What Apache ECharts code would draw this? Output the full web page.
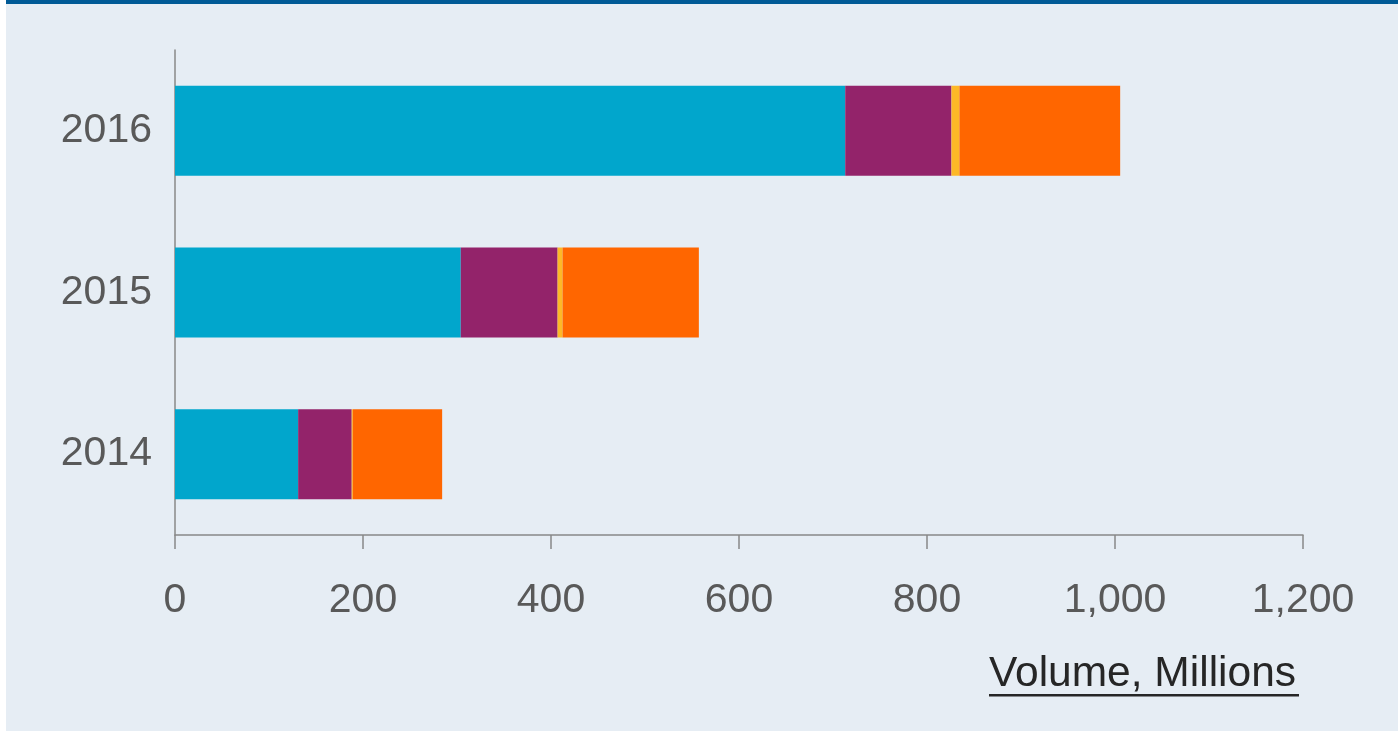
<!DOCTYPE html>
<html>
<head>
<meta charset="utf-8">
<script src="https://cdn.jsdelivr.net/npm/echarts@6/dist/echarts.min.js"></script>
<style>
html,body{margin:0;padding:0;background:#ffffff;}
#chart{width:1398px;height:731px;}
</style>
</head>
<body>
<div id="chart"></div>
<script>
const categories = ['2014', '2015', '2016'];
const seriesCyan = [131, 304, 713];
const seriesPurple = [57, 103, 113];
const seriesYellow = [1.2, 5.3, 8.5];
const seriesOrange = [95, 145, 171];
const xTicks = [0, 200, 400, 600, 800, 1000, 1200];
const axisTitle = 'Volume, Millions';

const chart = echarts.init(document.getElementById('chart'), null, {renderer: 'canvas'});
const FONT = '"Liberation Sans", Arial, Helvetica, sans-serif';

function barSeries(name, data, color) {
  return {
    name: name, type: 'bar', stack: 'total', data: data, barWidth: 90,
    itemStyle: {color: color}, silent: true
  };
}

chart.setOption({
  backgroundColor: '#E6EDF4',
  animation: false,
  graphic: [
    {type: 'rect', z: 100, shape: {x: 0, y: 0, width: 6, height: 731}, style: {fill: '#ffffff'}},
    {type: 'rect', z: 100, shape: {x: 6, y: 0, width: 1392, height: 4}, style: {fill: '#005A96'}},
    {type: 'text', z: 100, left: 989, top: 653,
      style: {text: axisTitle, font: '42.5px ' + FONT, fill: '#262626'}},
    {type: 'rect', z: 100, shape: {x: 989, y: 694, width: 310, height: 2.5}, style: {fill: '#262626'}}
  ],
  grid: {left: 175, right: 95, top: 50, bottom: 196, containLabel: false},
  xAxis: {
    type: 'value', min: 0, max: 1200, interval: 200,
    axisLine: {show: true, lineStyle: {color: '#888888', width: 1.5}},
    axisTick: {show: true, length: 14, lineStyle: {color: '#888888', width: 1.5}},
    splitLine: {show: false},
    axisLabel: {
      margin: 45, color: '#595959', fontSize: 41, fontFamily: FONT,
      formatter: function (v) { return xTicks.indexOf(v) >= 0 ? v.toLocaleString('en-US') : ''; }
    }
  },
  yAxis: {
    type: 'category', data: categories,
    axisLine: {show: true, lineStyle: {color: '#888888', width: 1.5}},
    axisTick: {show: false},
    axisLabel: {margin: 23, color: '#595959', fontSize: 41, fontFamily: FONT}
  },
  series: [
    barSeries('A', seriesCyan, '#01A6CC'),
    barSeries('B', seriesPurple, '#93236A'),
    barSeries('C', seriesYellow, '#FDB827'),
    barSeries('D', seriesOrange, '#FF6600')
  ]
});
</script>
</body>
</html>
